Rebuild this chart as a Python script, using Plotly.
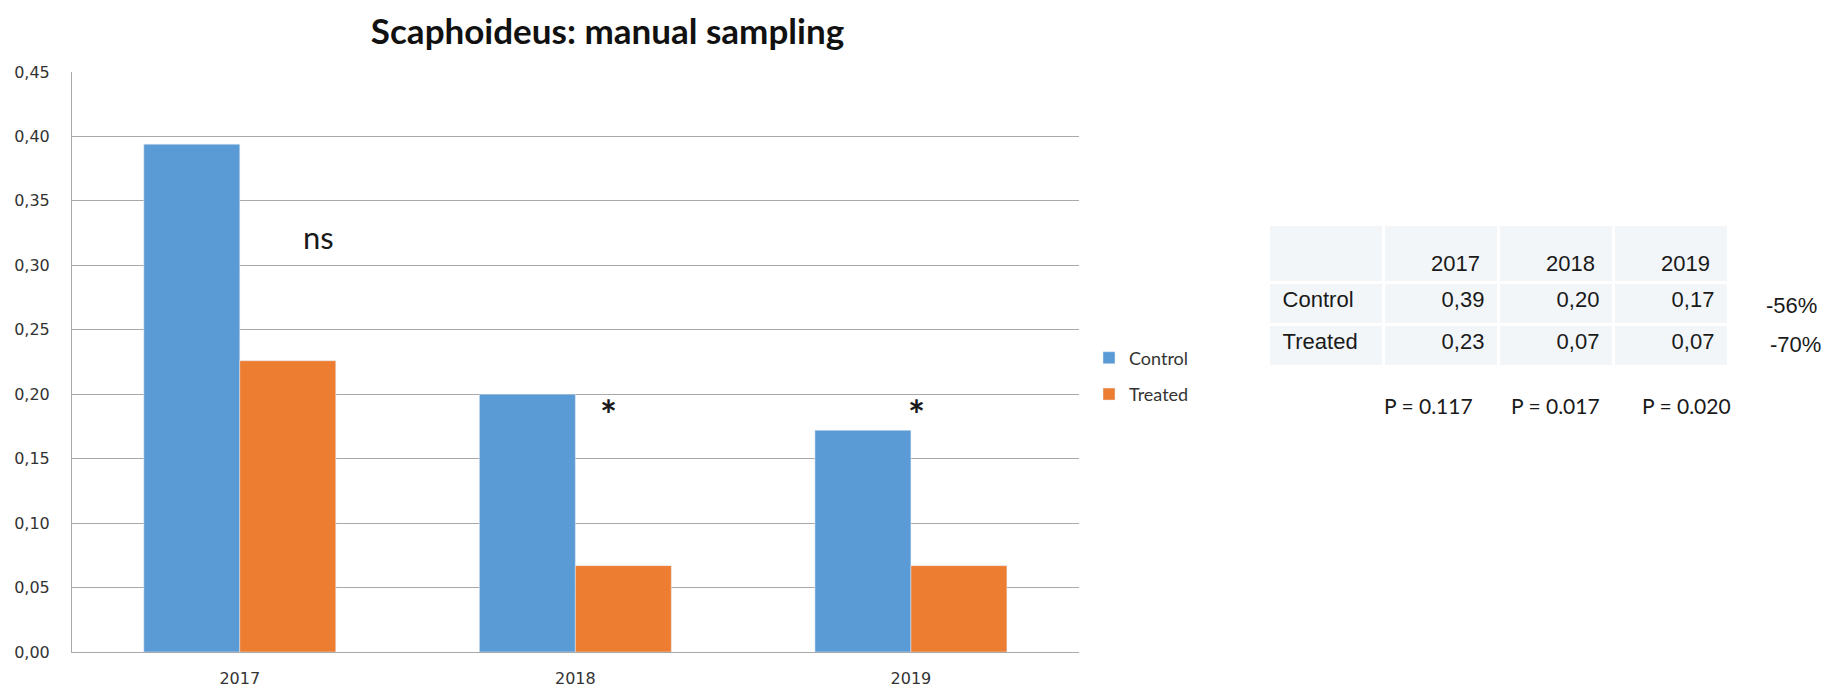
import plotly.graph_objects as go

# ---------------- data ----------------
years = ["2017", "2018", "2019"]
control = [0.394, 0.200, 0.172]
treated = [0.226, 0.067, 0.067]
series_names = ["Control", "Treated"]
sig_labels = ["ns", "*", "*"]
p_labels = ["P = 0.117", "P = 0.017", "P = 0.020"]
change_labels = ["-56%", "-70%"]
y_ticks = [0.00, 0.05, 0.10, 0.15, 0.20, 0.25, 0.30, 0.35, 0.40, 0.45]

# ---------------- styling / layout ----------------
OFF = 8                      # default body margin of the html page
W, H = 1839 - OFF, 690 - OFF
ML, MR, MT = 72 - OFF, 12, 72 - OFF
MB = H - (652 - OFF)
PW = W - ML - MR
PH = H - MT - MB


def px_x(px):  # screen px -> paper x
    return (px - OFF - ML) / PW


def px_y(py):  # screen px -> paper y
    return (H - MB - (py - OFF)) / PH


BLUE = "#5B9BD5"
ORANGE = "#ED7D31"
GRID = "#A9A9A9"
CELL = "#F2F6F9"
TXT = "#1a1a1a"
NB = "\u00a0"


def fmt(v):
    return f"{v:.2f}".replace(".", ",")


fig = go.Figure()
fig.add_trace(go.Bar(x=years, y=control, name=series_names[0], marker_color=BLUE,
                     legendgroup="c"))
fig.add_trace(go.Bar(x=years, y=treated, name=series_names[1], marker_color=ORANGE,
                     legendgroup="t"))

fig.add_trace(go.Table(
    domain=dict(x=[px_x(1268.5), px_x(1728.5)], y=[0.3, px_y(224.2)]),
    columnwidth=[1, 1, 1, 1],
    header=dict(values=["", "", "", ""], fill_color=CELL,
                line=dict(color="white", width=3),
                font=dict(family="Liberation Sans", size=22, color=TXT),
                height=58),
    cells=dict(values=[series_names] + [[fmt(c), fmt(t)] for c, t in zip(control, treated)],
               fill_color=CELL, line=dict(color="white", width=3),
               align=["left", "right", "right", "right"],
               prefix=[NB, "", "", ""], suffix=["", NB, NB, NB],
               font=dict(family="Liberation Sans", size=22, color=TXT),
               height=42),
))

annotations = []
# table column headings (years), sitting low in the header cells
for yr, rx in zip(years, [1482, 1597, 1712]):
    annotations.append(dict(x=px_x(rx), y=px_y(263), xref="paper", yref="paper", text=yr,
                            showarrow=False, xanchor="right", yanchor="middle",
                            font=dict(family="Liberation Sans", size=22, color=TXT)))
sig_x = [0.236, 1.10, 2.018]
sig_y = [0.322, 0.184, 0.184]
sig_font = [dict(family="Lato", size=31, color=TXT),
            dict(family="Lato", size=40, color=TXT, weight="bold"),
            dict(family="Lato", size=40, color=TXT, weight="bold")]
for lab, xx, yy, fnt in zip(sig_labels, sig_x, sig_y, sig_font):
    annotations.append(dict(x=xx, y=yy, xref="x", yref="y", text=lab, showarrow=False,
                            font=fnt, xanchor="center", yanchor="middle"))
for lab, cx in zip(p_labels, [1428, 1555, 1686]):
    annotations.append(dict(x=px_x(cx), y=px_y(405.5), xref="paper", yref="paper", text=lab,
                            showarrow=False, xanchor="center", yanchor="middle",
                            font=dict(family="Lato", size=21, color=TXT)))
for lab, cx, cy in zip(change_labels, [1791, 1795], [305, 344]):
    annotations.append(dict(x=px_x(cx), y=px_y(cy), xref="paper", yref="paper", text=lab,
                            showarrow=False, xanchor="center", yanchor="middle",
                            font=dict(family="Liberation Sans", size=22, color=TXT)))

fig.update_layout(
    width=W, height=H,
    margin=dict(l=ML, r=MR, t=MT, b=MB, autoexpand=False),
    paper_bgcolor="white", plot_bgcolor="white",
    separators=", ",
    barmode="group", bargap=0.428, bargroupgap=0,
    title=dict(text="<b>Scaphoideus: manual sampling</b>", x=(607.5 - OFF) / W, xref="container",
               xanchor="center", y=1 - (32 - OFF) / H, yref="container", yanchor="middle",
               font=dict(family="Lato", size=35, color="#111111")),
    legend=dict(x=px_x(1089), y=px_y(339.5), xanchor="left", yanchor="top",
                font=dict(family="Lato", size=18, color="#333333"),
                tracegroupgap=10, bgcolor="rgba(0,0,0,0)"),
    annotations=annotations,
    xaxis=dict(domain=[0, px_x(1078.7)], type="category", showgrid=False, automargin=False,
               showline=True, linecolor=GRID, linewidth=1, ticks="",
               tickfont=dict(family="DejaVu Sans", size=16, color="#333333"),
               ticklabelstandoff=12),
    yaxis=dict(range=[0, 0.45], tickvals=y_ticks, tickformat=".2f", automargin=False,
               showgrid=True, gridcolor=GRID, gridwidth=1,
               showline=True, linecolor=GRID, linewidth=1, ticks="",
               zeroline=False,
               tickfont=dict(family="DejaVu Sans", size=16, color="#333333"),
               ticklabelstandoff=18),
)

fig.write_html("out.html")
